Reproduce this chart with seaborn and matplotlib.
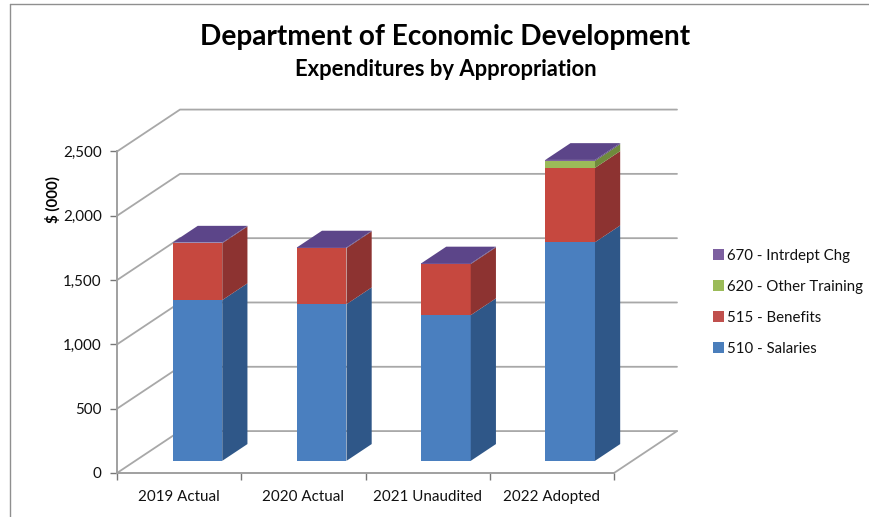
import matplotlib
matplotlib.use('Agg')
import matplotlib.pyplot as plt
import matplotlib.transforms as mtrans
from matplotlib.patches import Patch, Polygon
import pandas as pd
import seaborn as sns

years = ['2019 Actual', '2020 Actual', '2021 Unaudited', '2022 Adopted']
salaries = [1250, 1218, 1133, 1700]
benefits = [442, 436, 397, 578]
training = [0, 0, 0, 54]
intrdept = [5, 5, 5, 8]

names = ['510 - Salaries', '515 - Benefits', '620 - Other Training', '670 - Intrdept Chg']
front_cols = ['#4a7fbf', '#c6483f', '#9bbb59', '#7d60a0']
legend_cols = ['#4a7ebb', '#c0504d', '#9bbb59', '#7d60a0']
side_cols = ['#2f5788', '#8d3331', '#6f8a3c', '#54407a']
top_col = '#5c4589'
yticks = [0, 500, 1000, 1500, 2000, 2500]

# how far the back wall sits from the front plane, in data units
DEPTH_X = 0.507
DEPTH_V = 326
BAR_W = 0.4
D0, D1 = 0.29, 0.69
GRID = '#a8a8a8'
AXIS = '#a0a0a0'
FRAME = '#8f8f8f'

sns.set_style('white')
plt.rcParams['font.family'] = ['Lato', 'DejaVu Sans']

W, H = 869, 517
fig = plt.figure(figsize=(W / 100, H / 100), dpi=100)
ax = fig.add_axes([117 / W, 1 - 473 / H, 497 / W, 321.5 / H])


def proj(x, v, d):
    return x + d * DEPTH_X, v + d * DEPTH_V


# walls
for v in yticks:
    x0, y0 = proj(0, v, 1)
    ax.plot([0, x0, x0 + 4], [v, y0, y0], color=GRID, lw=1.3, clip_on=False, zorder=1)
x1, y1 = proj(4, 0, 1)
ax.plot([4, x1], [0, y1], color=GRID, lw=1.3, clip_on=False, zorder=1)

# front faces: cumulative bars painted from the tallest down
df = pd.DataFrame({'year': years, 'pos': [i + 0.5 for i in range(4)],
                   names[0]: salaries, names[1]: benefits, names[2]: training, names[3]: intrdept})
cum = df[names].cumsum(axis=1)
for k in [3, 2, 1, 0]:
    sns.barplot(x=df['pos'], y=cum[names[k]], native_scale=True, width=BAR_W, color=front_cols[k],
                saturation=1, ax=ax, zorder=3, clip_on=False, linewidth=0,
                transform=ax.transData + mtrans.Affine2D().translate(
                    D0 * DEPTH_X * 497 / 4, D0 * DEPTH_V * 321.5 / 2500))

# side and top faces
for i in range(4):
    xr = i + 0.5 + BAR_W / 2
    xl = i + 0.5 - BAR_W / 2
    low = 0
    for k in range(4):
        high = cum[names[k]][i]
        if high > low:
            ax.add_patch(Polygon([proj(xr, low, D0), proj(xr, low, D1), proj(xr, high, D1), proj(xr, high, D0)],
                                 closed=True, fc=side_cols[k], ec='none', zorder=3, clip_on=False))
        low = high
    ax.add_patch(Polygon([proj(xl, low, D0), proj(xr, low, D0), proj(xr, low, D1), proj(xl, low, D1)],
                         closed=True, fc=top_col, ec='none', zorder=3, clip_on=False))

ax.set_xlim(0, 4)
ax.set_ylim(0, 2500)
ax.patch.set_alpha(0)
for s in ['top', 'right']:
    ax.spines[s].set_visible(False)
for s in ['left', 'bottom']:
    ax.spines[s].set_color(AXIS)
    ax.spines[s].set_linewidth(1.4)
    ax.spines[s].set_zorder(2)
ax.set_xticks(range(5))
ax.set_xticklabels([])
ax.set_xticks([i + 0.5 for i in range(4)], years, minor=True)
ax.tick_params(axis='x', which='major', bottom=True, length=5, width=1, color='#777777')
ax.tick_params(axis='x', which='minor', bottom=False, labelsize=10.9, pad=10, labelcolor='#111111')
ax.set_yticks(yticks)
ax.set_yticklabels([f'{v:,}' for v in yticks])
ax.tick_params(axis='y', left=True, length=5, width=1, color='#777777', labelsize=10.9, pad=6, labelcolor='#111111')
ax.set_xlabel('')
ax.set_ylabel('$ (000)', fontsize=10.9, fontweight='bold', color='black')
ax.yaxis.set_label_coords(-0.113, 0.85)

fig.text(445.5 / W, 1 - 37 / H, 'Department of Economic Development', fontsize=20.2, fontweight='bold',
         ha='center', va='center', color='black')
fig.text(445.5 / W, 1 - 69 / H, 'Expenditures by Appropriation', fontsize=15.8, fontweight='bold',
         ha='center', va='center', color='black')

handles = [Patch(fc=legend_cols[k], ec='none', label=names[k]) for k in [3, 2, 1, 0]]
fig.legend(handles=handles, loc='center left', bbox_to_anchor=(713 / W, 1 - 302.5 / H), frameon=False,
           fontsize=10.8, handlelength=0.73, handleheight=0.73, handletextpad=0.22, labelspacing=1.13,
           labelcolor='#111111', borderpad=0, borderaxespad=0)

# outer chart frame
fig.add_artist(plt.Line2D([10 / W, 10 / W], [0, 1 - 4 / H], color=FRAME, lw=1))
fig.add_artist(plt.Line2D([10 / W, 1], [1 - 4 / H, 1 - 4 / H], color=FRAME, lw=1))

fig.savefig('out.png', dpi=100)
